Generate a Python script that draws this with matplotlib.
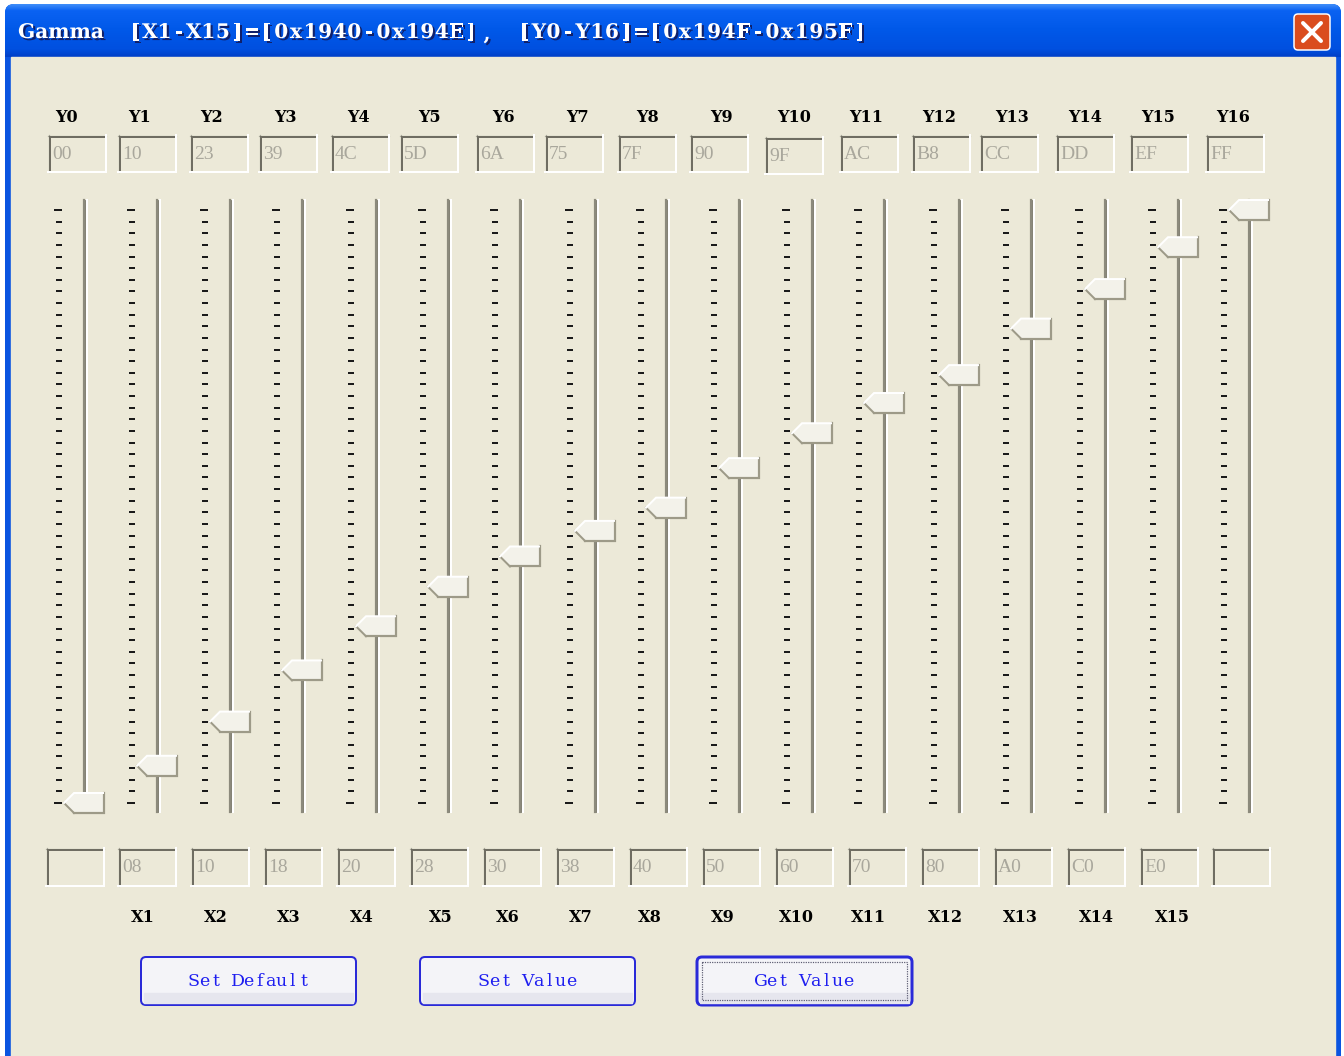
import numpy as np
import matplotlib
matplotlib.use("Agg")
import matplotlib.pyplot as plt
import matplotlib.patheffects as pe
from matplotlib.patches import Rectangle, Polygon, FancyBboxPatch
from matplotlib.colors import LinearSegmentedColormap

W, H = 1344, 1056

title_parts = ["Gamma", "[X1-X15]=[0x1940-0x194E]", "，", "[Y0-Y16]=[0x194F-0x195F]"]
y_names = ["Y0", "Y1", "Y2", "Y3", "Y4", "Y5", "Y6", "Y7", "Y8",
           "Y9", "Y10", "Y11", "Y12", "Y13", "Y14", "Y15", "Y16"]
y_hex = ["00", "10", "23", "39", "4C", "5D", "6A", "75", "7F",
         "90", "9F", "AC", "B8", "CC", "DD", "EF", "FF"]
x_names = ["", "X1", "X2", "X3", "X4", "X5", "X6", "X7", "X8",
           "X9", "X10", "X11", "X12", "X13", "X14", "X15", ""]
x_hex = ["", "08", "10", "18", "20", "28", "30", "38", "40",
         "50", "60", "70", "80", "A0", "C0", "E0", ""]
buttons = ["Set Default", "Set Value", "Get Value"]

slider_vals = [int(h, 16) for h in y_hex]

# layout (pixels)
track_x = [85, 158, 231, 303, 377, 449, 521, 596, 667, 740, 813, 885, 960, 1032, 1106, 1179, 1250]
top_box_x = [48, 118, 190, 259, 331, 400, 476, 545, 618, 690, 765, 840, 912, 980, 1056, 1130, 1206]
top_lab_x = [66, 139, 212, 285, 358, 429, 503, 577, 648, 721, 794, 866, 939, 1012, 1085, 1158, 1233]
bot_box_x = [46, 118, 191, 264, 337, 410, 483, 556, 629, 702, 775, 848, 921, 994, 1067, 1140, 1212]
bot_lab_x = [0, 143, 216, 289, 362, 441, 508, 581, 650, 723, 796, 868, 945, 1020, 1096, 1172, 0]
btn_x = [141, 420, 697]
title_x = [18, 128, 479, 517]

BG = "#ECE9D8"
SERIF = "DejaVu Serif"
shadow = [pe.withSimplePatchShadow(offset=(1.5, -1.5), shadow_rgbFace="#10206A", alpha=1)]

fig = plt.figure(figsize=(W / 100, H / 100), dpi=100)
ax = fig.add_axes([0, 0, 1, 1])
ax.set_xlim(0, W)
ax.set_ylim(H, 0)
ax.axis("off")

# slider scale axes: value 0 at y=803, 255 at y=210
sax = fig.add_axes([0, (H - 803) / H, 1, (803 - 210) / H])
sax.set_ylim(0, 255)
sax.axis("off")


def y_of(v):
    return H - sax.transData.transform((0, v))[1]


def px(n):
    return n * 0.72


def mono_text(x0, y, s, pitch, **kw):
    # bitmap-like fixed pitch text, one cell per character
    for k, ch in enumerate(s):
        if ch != " ":
            ax.text(x0 + (k + 0.5) * pitch, y, ch, ha="center", va="center", **kw)


# window frame
ax.add_patch(Rectangle((0, 0), W, H, color="white", zorder=0))
ax.add_patch(FancyBboxPatch((5, 4), 1336, 1100, boxstyle="round,pad=0,rounding_size=9",
                            fc="#0A54E0", ec="none", zorder=1))
cmap = LinearSegmentedColormap.from_list("xp", [(0, "#3D8CF8"), (0.12, "#0A62F2"),
                                                (0.5, "#0058E8"), (0.85, "#0050E0"),
                                                (1, "#0040C8")])
grad = np.linspace(0, 1, 60).reshape(-1, 1)
img = ax.imshow(grad, cmap=cmap, extent=(5, 1341, 57, 4), aspect="auto", zorder=2)
clip = FancyBboxPatch((5, 4), 1336, 200, boxstyle="round,pad=0,rounding_size=9",
                      transform=ax.transData, fc="none", ec="none")
ax.add_patch(clip)
img.set_clip_path(clip)
ax.add_patch(Rectangle((11, 57), 1324, H, color=BG, zorder=3))

tkw = dict(color="white", fontsize=14.5, family=SERIF, weight="bold", zorder=5,
           path_effects=shadow)
for part, x0 in zip(title_parts, title_x):
    if part == "，":
        ax.text(x0 + 8, 34, ",", ha="center", va="center", **tkw)
    elif part == "Gamma":
        ax.text(x0, 32, part, ha="left", va="center", **tkw)
    else:
        mono_text(x0, 32, part, 14.6, **tkw)

# close button
ax.add_patch(FancyBboxPatch((1294, 14), 36, 36, boxstyle="round,pad=0,rounding_size=4",
                            fc="#DA4C1E", ec="white", lw=px(1.5), zorder=4))
ax.plot([1303, 1321], [23, 41], color="white", lw=px(4), solid_capstyle="round", zorder=5)
ax.plot([1303, 1321], [41, 23], color="white", lw=px(4), solid_capstyle="round", zorder=5)


def textbox(x0, y0, w, h, txt):
    ax.add_patch(Rectangle((x0, y0), w, h, color=BG, zorder=4))
    ax.plot([x0, x0 + w], [y0 + 0.5, y0 + 0.5], color="#A7A597", lw=px(1.2), zorder=5)
    ax.plot([x0 + 0.5, x0 + 0.5], [y0, y0 + h], color="#A7A597", lw=px(1.2), zorder=5)
    ax.plot([x0 + 1.5, x0 + w - 1], [y0 + 2.3, y0 + 2.3], color="#6F6D62", lw=px(2), zorder=5)
    ax.plot([x0 + 2.3, x0 + 2.3], [y0 + 1.5, y0 + h - 1], color="#6F6D62", lw=px(2), zorder=5)
    ax.plot([x0, x0 + w], [y0 + h, y0 + h], color="white", lw=px(2), zorder=5)
    ax.plot([x0 + w, x0 + w], [y0, y0 + h], color="white", lw=px(2), zorder=5)
    if txt:
        ax.text(x0 + 4, y0 + h / 2 + 1, txt, color="#A9A79C", fontsize=14,
                family="Liberation Serif", ha="left", va="center", zorder=6)


# top labels and boxes
for i in range(17):
    ax.text(top_lab_x[i], 118, y_names[i], fontsize=11.5, family=SERIF, weight="bold",
            ha="center", va="center", color="black", zorder=6)
    yb = 137 if i == 10 else 135
    textbox(top_box_x[i], yb, 58, 37, y_hex[i])

# sliders
tick_vals = np.arange(0, 256, 5)
for i in range(17):
    t = track_x[i]
    # ticks
    for k, v in enumerate(tick_vals):
        yy = y_of(v)
        x0 = t - 31 if k in (0, len(tick_vals) - 1) else t - 29
        ax.plot([x0, t - 23], [yy, yy], color="#1A1A1A", lw=px(2), solid_capstyle="butt", zorder=5)
    # track
    ax.plot([t - 1.5, t - 1.5], [200, 812], color="#8C8A7C", lw=px(2.2), zorder=5)
    ax.plot([t - 0.2, t - 0.2], [200, 812], color="#6E6C60", lw=px(0.8), zorder=5)
    ax.plot([t + 1.5, t + 1.5], [200, 812], color="white", lw=px(2), zorder=5)
    # thumb
    yv = y_of(slider_vals[i])
    verts = [(t - 21, yv), (t - 11, yv - 10), (t + 19, yv - 10), (t + 19, yv + 10), (t - 11, yv + 10)]
    ax.add_patch(Polygon(verts, closed=True, fc="#F3F2EA", ec="none", zorder=6))
    ax.plot([t - 11, t + 19, t + 19], [yv + 10, yv + 10, yv - 10], color="#9D9A88", lw=px(2.2),
            solid_joinstyle="miter", zorder=7)
    ax.plot([t - 21, t - 11], [yv, yv + 10], color="#9D9A88", lw=px(2), zorder=7)
    ax.plot([t - 21, t - 11, t + 18], [yv, yv - 10, yv - 10], color="white", lw=px(2),
            solid_joinstyle="miter", zorder=7)

# bottom boxes and labels
for i in range(17):
    textbox(bot_box_x[i], 848, 58, 38, x_hex[i])
    if x_names[i]:
        ax.text(bot_lab_x[i], 917, x_names[i], fontsize=11.5, family=SERIF, weight="bold",
                ha="center", va="center", color="black", zorder=6)

# buttons
for i, lab in enumerate(buttons):
    x0 = btn_x[i]
    focused = (i == 2)
    ax.add_patch(FancyBboxPatch((x0, 957), 215, 48, boxstyle="round,pad=0,rounding_size=5",
                                fc="#F4F4F8", ec="#2A2AD8", lw=px(3 if focused else 2), zorder=5))
    ax.add_patch(Rectangle((x0 + 3, 993), 209, 10, color="#E6E6EE", zorder=5))
    if focused:
        ax.add_patch(Rectangle((x0 + 5, 962), 205, 38, fc="none", ec="#5A5A70",
                               lw=px(1.2), ls=(0, (1, 1)), zorder=6))
    mono_text(x0 + 107.5 - len(lab) * 11 / 2, 981, lab, 11, fontsize=12.5, family=SERIF,
              color="#1E1EF0", zorder=7)

fig.savefig("out.png", dpi=100)
